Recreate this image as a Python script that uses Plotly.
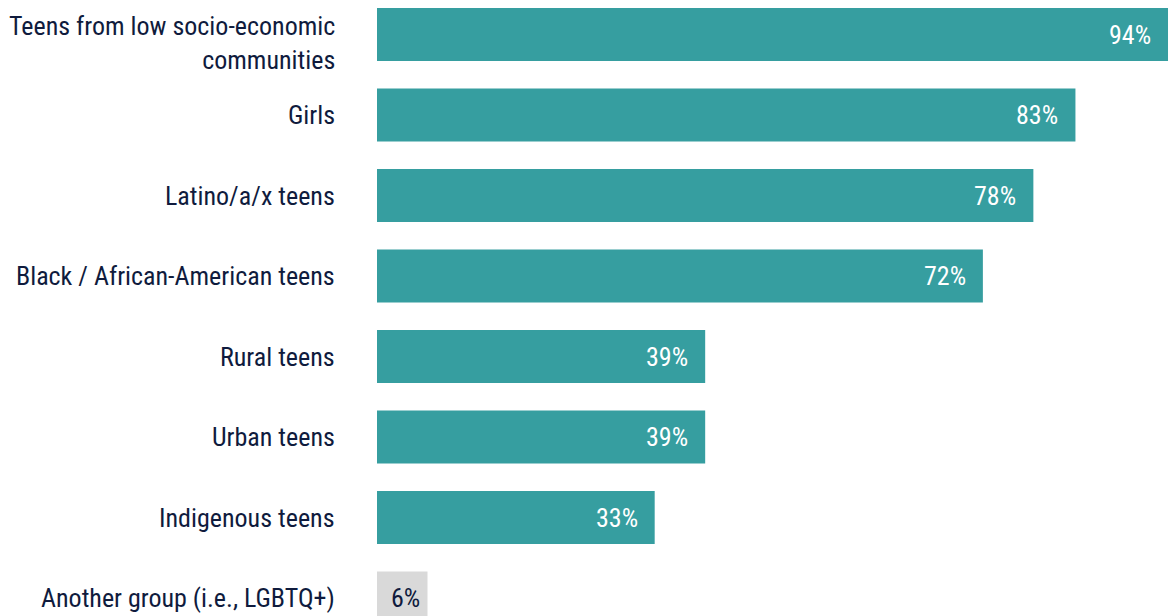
import plotly.graph_objects as go

categories = [
    "Teens from low socio-economic<br>communities",
    "Girls",
    "Latino/a/x teens",
    "Black / African-American teens",
    "Rural teens",
    "Urban teens",
    "Indigenous teens",
    "Another group (i.e., LGBTQ+)",
]
values = [94, 83, 78, 72, 39, 39, 33, 6]
labels = ["94%", "83%", "78%", "72%", "39%", "39%", "33%", "6%"]

TEAL = "#369EA0"
GRAY = "#D9D9D9"
NAVY = "#0F1B3D"
FONT = "Liberation Sans Narrow, Roboto Condensed, Arial Narrow, Roboto, sans-serif"

colors = [GRAY if c.startswith("Another") else TEAL for c in categories]

fig = go.Figure(go.Bar(
    y=categories,
    x=values,
    orientation="h",
    marker=dict(color=colors, line=dict(width=0)),
    hoverinfo="skip",
))

for c, v, t, col in zip(categories, values, labels, colors):
    if col == TEAL:
        fig.add_annotation(x=v, y=c, text=t, showarrow=False, xanchor="right",
                           xshift=-15, font=dict(family=FONT, size=26, color="white"))
    else:
        fig.add_annotation(x=0, y=c, text=t, showarrow=False, xanchor="left",
                           xshift=12, font=dict(family=FONT, size=26, color=NAVY))
    # category label (as text to the left of the axis)
    fig.add_annotation(x=0, y=c, xref="x", text=c, showarrow=False, xanchor="right",
                       align="right", xshift=-40, yshift=(-8 if "<br>" in c else 0),
                       font=dict(family=FONT, size=26, color=NAVY))

fig.update_layout(
    width=1176, height=616,
    margin=dict(l=377, r=0, t=0, b=0, autoexpand=False),
    plot_bgcolor="white", paper_bgcolor="white",
    bargap=0.342,
    showlegend=False,
    font=dict(family=FONT, size=26, color=NAVY),
)
fig.update_xaxes(range=[0, 94.95], visible=False, fixedrange=True, automargin=False)
fig.update_yaxes(range=[7.2236, -0.4286], showgrid=False, zeroline=False, showline=False,
                 automargin=False, showticklabels=False, ticks="")

fig.write_html("out.html")
